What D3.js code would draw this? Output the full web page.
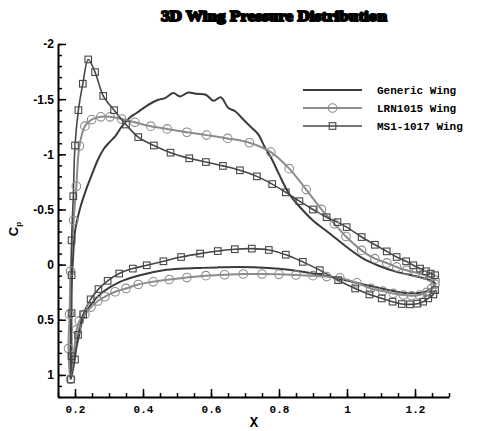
<!DOCTYPE html>
<html>
<head>
<meta charset="utf-8">
<script src="https://cdn.jsdelivr.net/npm/d3@7"></script>
<style>
  html, body { margin: 0; padding: 0; background: #fff; }
  svg { display: block; }
</style>
</head>
<body>
<svg id="chart" width="483" height="431"></svg>
<script>
// Pressure coefficient along the chord for three wing sections.
// Each surface is listed from the stagnation point towards the trailing edge.
const seriesNames = ["Generic Wing", "LRN1015 Wing", "MS1-1017 Wing"];

const genericUpper = [
  [0.186, 1.03], [0.188, 0.6], [0.19, 0.2], [0.194, -0.05], [0.2, -0.3], [0.214, -0.5],
  [0.235, -0.7], [0.25, -0.82], [0.268, -0.955], [0.285, -1.05], [0.3, -1.105], [0.32, -1.17],
  [0.337, -1.25], [0.36, -1.33], [0.381, -1.375], [0.411, -1.44], [0.445, -1.495], [0.465, -1.51],
  [0.489, -1.555], [0.509, -1.525], [0.533, -1.56], [0.558, -1.548], [0.585, -1.54], [0.607, -1.486],
  [0.629, -1.516], [0.651, -1.42], [0.671, -1.39], [0.695, -1.315], [0.72, -1.24], [0.739, -1.18],
  [0.759, -1.06], [0.779, -0.955], [0.8, -0.82], [0.83, -0.64], [0.862, -0.52], [0.9, -0.4],
  [0.95, -0.28], [0.999, -0.16], [1.048, -0.054], [1.097, 0.015], [1.146, 0.066], [1.195, 0.1],
  [1.234, 0.13], [1.254, 0.156], [1.26, 0.175]
];
const genericLower = [
  [0.186, 1.03], [0.195, 0.877], [0.21, 0.667], [0.224, 0.48], [0.249, 0.351], [0.283, 0.246],
  [0.332, 0.156], [0.391, 0.096], [0.46, 0.051], [0.519, 0.036], [0.568, 0.03], [0.62, 0.025],
  [0.68, 0.022], [0.74, 0.025], [0.8, 0.038], [0.86, 0.06], [0.9, 0.08], [0.95, 0.11], [1.0, 0.145],
  [1.048, 0.18], [1.1, 0.215], [1.146, 0.245], [1.19, 0.26], [1.225, 0.25], [1.25, 0.215], [1.26, 0.175]
];

const lrnUpper = [
  [0.187, 1.04], [0.181, 0.76], [0.184, 0.45], [0.187, 0.06], [0.196, -0.4], [0.204, -0.71],
  [0.213, -1.075], [0.229, -1.255], [0.249, -1.315], [0.276, -1.34], [0.303, -1.34], [0.337, -1.32],
  [0.376, -1.29], [0.423, -1.255], [0.471, -1.23], [0.529, -1.2], [0.587, -1.174], [0.649, -1.144],
  [0.713, -1.105], [0.776, -1.02], [0.83, -0.87], [0.88, -0.68], [0.925, -0.5], [0.963, -0.37],
  [0.997, -0.255], [1.043, -0.129], [1.082, -0.054], [1.117, -0.015], [1.146, 0.021], [1.175, 0.051],
  [1.203, 0.072], [1.224, 0.09], [1.244, 0.111], [1.259, 0.141]
];
const lrnLower = [
  [0.187, 1.04], [0.205, 0.59], [0.213, 0.51], [0.229, 0.45], [0.247, 0.385], [0.267, 0.33],
  [0.288, 0.291], [0.318, 0.246], [0.35, 0.216], [0.386, 0.18], [0.43, 0.156], [0.477, 0.135],
  [0.529, 0.117], [0.585, 0.1], [0.64, 0.092], [0.695, 0.085], [0.75, 0.085], [0.8, 0.088],
  [0.85, 0.094], [0.9, 0.1], [0.94, 0.108], [0.979, 0.12], [1.029, 0.165], [1.07, 0.216],
  [1.105, 0.24], [1.136, 0.261], [1.166, 0.276], [1.19, 0.282], [1.213, 0.276], [1.234, 0.252],
  [1.249, 0.216], [1.259, 0.177]
];

const msUpper = [
  [0.188, 1.04], [0.19, 0.83], [0.19, 0.44], [0.19, 0.096], [0.19, -0.22], [0.195, -0.62],
  [0.2, -1.08], [0.21, -1.4], [0.223, -1.64], [0.239, -1.86], [0.259, -1.745], [0.283, -1.53],
  [0.315, -1.4], [0.35, -1.27], [0.386, -1.156], [0.432, -1.08], [0.481, -1.015], [0.536, -0.964],
  [0.585, -0.93], [0.635, -0.895], [0.685, -0.855], [0.735, -0.8], [0.78, -0.73], [0.82, -0.655],
  [0.86, -0.575], [0.9, -0.5], [0.94, -0.43], [0.972, -0.385], [0.999, -0.34], [1.043, -0.25],
  [1.082, -0.18], [1.117, -0.12], [1.146, -0.069], [1.174, -0.03], [1.195, 0.006], [1.215, 0.036],
  [1.232, 0.06], [1.246, 0.081], [1.259, 0.096]
];
const msLower = [
  [0.188, 1.04], [0.2, 0.86], [0.209, 0.637], [0.224, 0.45], [0.246, 0.315], [0.269, 0.222],
  [0.296, 0.147], [0.33, 0.081], [0.37, 0.036], [0.411, 0.006], [0.46, -0.03], [0.512, -0.069],
  [0.568, -0.1], [0.62, -0.123], [0.67, -0.14], [0.72, -0.145], [0.77, -0.133], [0.82, -0.09],
  [0.87, -0.025], [0.92, 0.05], [0.974, 0.141], [1.024, 0.216], [1.066, 0.27], [1.102, 0.306],
  [1.134, 0.336], [1.161, 0.357], [1.185, 0.36], [1.207, 0.354], [1.224, 0.336], [1.239, 0.306],
  [1.254, 0.27], [1.259, 0.231]
];

const xMajorTicks = [0.2, 0.4, 0.6, 0.8, 1, 1.2];
const yMajorTicks = [-2, -1.5, -1, -0.5, 0, 0.5, 1];

const svg = d3.select("#chart");
const x = d3.scaleLinear().domain([0.15, 1.3]).range([58, 449]);
const y = d3.scaleLinear().domain([-2, 1.2]).range([44, 397]);

// Title
svg.append("text")
  .attr("x", 274).attr("y", 21)
  .attr("text-anchor", "middle")
  .attr("font-family", "Liberation Serif")
  .attr("font-weight", "bold")
  .attr("font-size", 14)
  .attr("textLength", 226)
  .attr("lengthAdjust", "spacingAndGlyphs")
  .attr("stroke", "#000").attr("stroke-width", 1.8).attr("stroke-linejoin", "round")
  .text("3D Wing Pressure Distribution");

// Axes (ticks point into the plot)
const xMinor = d3.range(0.15, 1.3001, 0.05).map(v => +v.toFixed(2));
const yMinor = d3.range(-2, 1.2001, 0.1).map(v => +v.toFixed(1));

const gx = svg.append("g").attr("transform", `translate(0,${y(1.2)})`);
gx.call(d3.axisBottom(x).tickValues(xMinor).tickSizeInner(-4).tickSizeOuter(0).tickFormat(""));
gx.append("g").call(d3.axisBottom(x).tickValues(xMajorTicks).tickSizeInner(-8).tickSizeOuter(0).tickPadding(6).tickFormat(d => String(d)))
  .call(g => g.select(".domain").remove());
gx.selectAll("text")
  .attr("font-family", "Liberation Mono").attr("font-weight", "bold")
  .attr("font-size", 11).attr("fill", "#000").attr("dy", "0.9em");

const gy = svg.append("g").attr("transform", `translate(${x(0.15)},0)`);
gy.call(d3.axisLeft(y).tickValues(yMinor).tickSizeInner(-4).tickSizeOuter(0).tickFormat(""));
gy.append("g").call(d3.axisLeft(y).tickValues(yMajorTicks).tickSizeInner(-8).tickSizeOuter(0).tickPadding(4).tickFormat(d => String(d)))
  .call(g => g.select(".domain").remove());
gy.selectAll("text")
  .attr("font-family", "Liberation Sans").attr("font-weight", "bold")
  .attr("font-size", 12).attr("fill", "#000");
svg.selectAll(".domain, .tick line").attr("stroke", "#000").attr("stroke-width", 1.5);
svg.selectAll(".domain").attr("stroke-width", 2);

// Axis titles
svg.append("text")
  .attr("x", 254).attr("y", 427).attr("text-anchor", "middle")
  .attr("font-family", "Liberation Mono").attr("font-weight", "bold").attr("font-size", 14)
  .text("X");
const cp = svg.append("text")
  .attr("transform", "translate(18,229) rotate(-90)")
  .attr("text-anchor", "middle")
  .attr("font-family", "Liberation Sans").attr("font-weight", "bold").attr("font-size", 13);
cp.append("tspan").text("C");
cp.append("tspan").attr("font-size", 8).attr("dy", 3).text("p");

// Curves
const line = d3.line().x(d => x(d[0])).y(d => y(d[1])).curve(d3.curveCatmullRom.alpha(0.5));
const loop = (upper, lower) => upper.slice().reverse().concat(lower.slice(1));

const styles = [
  { upper: genericUpper, lower: genericLower, color: "#3a3a3a", width: 2, marker: null },
  { upper: lrnUpper, lower: lrnLower, color: "#8c8c8c", width: 2, marker: "circle" },
  { upper: msUpper, lower: msLower, color: "#474747", width: 1.6, marker: "square" }
];

const plot = svg.append("g");
styles.forEach(s => {
  plot.append("path")
    .attr("d", line(loop(s.upper, s.lower)))
    .attr("fill", "none").attr("stroke", s.color).attr("stroke-width", s.width)
    .attr("stroke-linejoin", "round");
});

function drawMarker(g, kind, cx, cy, color) {
  if (kind === "circle") {
    g.append("circle").attr("cx", cx).attr("cy", cy).attr("r", 4.3)
      .attr("fill", "none").attr("stroke", color).attr("stroke-width", 1.1);
  } else if (kind === "square") {
    g.append("rect").attr("x", cx - 3.3).attr("y", cy - 3.3).attr("width", 6.6).attr("height", 6.6)
      .attr("fill", "none").attr("stroke", color).attr("stroke-width", 1.1);
  }
}

styles.forEach(s => {
  if (!s.marker) return;
  const pts = s.upper.concat(s.lower.slice(1));
  pts.forEach(d => drawMarker(plot, s.marker, x(d[0]), y(d[1]), s.color));
});

// Legend
const legend = svg.append("g");
const rowY = [90, 108, 126];
styles.forEach((s, i) => {
  legend.append("line")
    .attr("x1", 303).attr("x2", 362).attr("y1", rowY[i]).attr("y2", rowY[i])
    .attr("stroke", s.color).attr("stroke-width", s.width);
  if (s.marker) drawMarker(legend, s.marker, 332.5, rowY[i], s.color);
  legend.append("text")
    .attr("x", 377).attr("y", rowY[i]).attr("dy", "0.35em")
    .attr("font-family", "Liberation Mono").attr("font-weight", "bold").attr("font-size", 11)
    .text(seriesNames[i]);
});
</script>
</body>
</html>
